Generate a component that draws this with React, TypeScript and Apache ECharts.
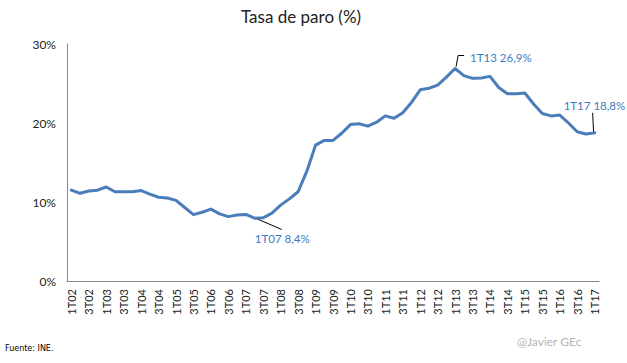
import React, { useEffect, useRef } from "react";
import * as echarts from "echarts";

const years = [2002, 2003, 2004, 2005, 2006, 2007, 2008, 2009, 2010, 2011, 2012, 2013, 2014, 2015, 2016, 2017];
const categories: string[] = [];
years.forEach((y) => {
  for (let q = 1; q <= 4; q++) {
    if (y === 2017 && q > 1) break;
    categories.push(`${q}T${String(y % 100).padStart(2, "0")}`);
  }
});

const unemployment = [
  11.5, 11.1, 11.4, 11.5,
  11.9, 11.3, 11.3, 11.3,
  11.45, 11.0, 10.6, 10.5,
  10.2, 9.3, 8.4, 8.7,
  9.1, 8.5, 8.15, 8.35,
  8.42, 7.95, 8.0, 8.6,
  9.6, 10.4, 11.3, 13.9,
  17.2, 17.8, 17.8, 18.7,
  19.8, 19.9, 19.6, 20.1,
  20.9, 20.6, 21.3, 22.6,
  24.2, 24.4, 24.8, 25.8,
  26.9, 26.0, 25.65, 25.7,
  25.9, 24.5, 23.7, 23.7,
  23.8, 22.4, 21.2, 20.9,
  21.0, 20.0, 18.9, 18.6,
  18.75,
];

const annotations = [
  { index: 20, text: "1T07 8,4%" },
  { index: 44, text: "1T13 26,9%" },
  { index: 60, text: "1T17 18,8%" },
];

const FONT = "Lato, 'Noto Sans', sans-serif";
const LINE_COLOR = "#4a7ebb";
const ANNOT_COLOR = "#3a7cc2";

export default function App() {
  const ref = useRef<HTMLDivElement>(null);
  useEffect(() => {
    document.body.style.margin = "0";
    const chart = echarts.init(ref.current!, null, { renderer: "svg" });
    chart.setOption({
      animation: false,
      backgroundColor: "#ffffff",
      textStyle: { fontFamily: FONT },
      title: {
        text: "Tasa de paro (%)",
        left: 236,
        top: 3,
        textStyle: { fontFamily: FONT, fontSize: 17, fontWeight: "normal", color: "#222" },
      },
      grid: { left: 67, right: 28, top: 44, bottom: 82, containLabel: false },
      xAxis: {
        type: "category",
        data: categories,
        boundaryGap: true,
        axisLine: { lineStyle: { color: "#868686", width: 1 } },
        axisTick: { show: false },
        axisLabel: {
          interval: 1,
          rotate: 90,
          margin: 8,
          fontSize: 11,
          color: "#222",
          fontFamily: FONT,
        },
      },
      yAxis: {
        type: "value",
        min: 0,
        max: 30,
        interval: 10,
        splitLine: { show: false },
        axisLine: { show: true, lineStyle: { color: "#868686", width: 1 } },
        axisTick: { show: false },
        axisLabel: {
          formatter: "{value}%",
          margin: 11,
          fontSize: 12,
          color: "#222",
          fontFamily: FONT,
        },
      },
      series: [
        {
          type: "line",
          data: unemployment,
          symbol: "none",
          lineStyle: { color: LINE_COLOR, width: 3, cap: "round", join: "round" },
        },
      ],
    });

    const pts = annotations.map((a) =>
      chart.convertToPixel({ seriesIndex: 0 }, [a.index, unemployment[a.index]]) as number[]
    );
    const [p1, p2, p3] = pts;
    const textStyleBase = { fill: ANNOT_COLOR, fontSize: 11.5, fontFamily: FONT, verticalAlign: "middle" };
    chart.setOption({
      graphic: [
        {
          type: "line",
          shape: { x1: p1[0] + 1, y1: p1[1], x2: p1[0] + 36, y2: p1[1] + 15 },
          style: { stroke: "#000", lineWidth: 1 },
        },
        {
          type: "text",
          x: p1[0] + 9,
          y: p1[1] + 24,
          style: { ...textStyleBase, text: annotations[0].text },
        },
        {
          type: "polyline",
          shape: { points: [[p2[0] + 1, p2[1] - 2], [p2[0] + 3, p2[1] - 13], [p2[0] + 9, p2[1] - 13]] },
          style: { stroke: "#000", lineWidth: 1, fill: "none" },
        },
        {
          type: "text",
          x: p2[0] + 15,
          y: p2[1] - 11,
          style: { ...textStyleBase, text: annotations[1].text },
        },
        {
          type: "line",
          shape: { x1: p3[0] - 1, y1: p3[1], x2: p3[0] - 2, y2: p3[1] - 20 },
          style: { stroke: "#000", lineWidth: 1 },
        },
        {
          type: "text",
          x: p3[0] - 31,
          y: p3[1] - 27,
          style: { ...textStyleBase, text: annotations[2].text },
        },
        {
          type: "text",
          left: 5,
          top: 344,
          style: { text: "Fuente: INE.", fill: "#000", fontSize: 8, fontFamily: "'DejaVu Sans', sans-serif" },
        },
        {
          type: "text",
          left: 517,
          top: 335,
          style: { text: "@Javier GEc", fill: "#b5b5b5", fontSize: 12, fontFamily: FONT },
        },
      ],
    });
    return () => chart.dispose();
  }, []);
  return <div ref={ref} style={{ width: 627, height: 363 }} />;
}
